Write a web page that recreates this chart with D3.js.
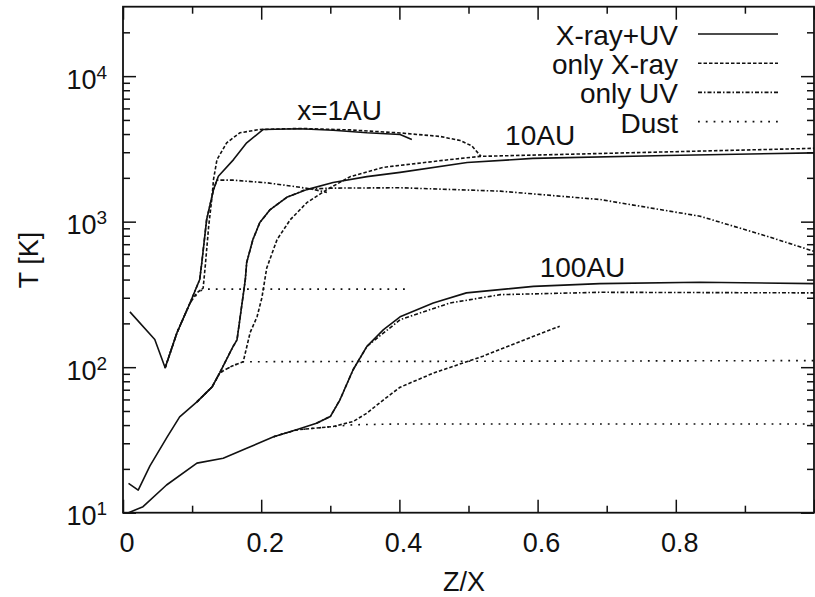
<!DOCTYPE html>
<html>
<head>
<meta charset="utf-8">
<script src="https://cdn.jsdelivr.net/npm/d3@7"></script>
<style>
  body { margin: 0; background: #fff; }
  text { font-family: "Liberation Sans", Arial, Helvetica, sans-serif; fill: #111; }
</style>
</head>
<body>
<div id="chart"></div>
<script>
// ticks
const xTicks = [0, 0.2, 0.4, 0.6, 0.8, 1];
const xMinor = [0.1, 0.3, 0.5, 0.7, 0.9];
// the label at 1 falls off the scanned page, so only these are printed
const xLabels = [0, 0.2, 0.4, 0.6, 0.8];
const yTicks = [10, 100, 1000, 10000];
const yMinor = [20, 30, 40, 50, 60, 70, 80, 90, 200, 300, 400, 500, 600, 700, 800, 900,
                2000, 3000, 4000, 5000, 6000, 7000, 8000, 9000, 20000];

const legendLabels = ["X-ray+UV", "only X-ray", "only UV", "Dust"];
const radiusLabels = ["x=1AU", "10AU", "100AU"];
// where the radius labels sit, in data units (Z/X, T)
const radiusLabelZ = [0.252, 0.553, 0.603];
const radiusLabelT = [5000, 3370, 417];

// x = 1AU
const z1_both = [0.010, 0.046, 0.061, 0.078, 0.097, 0.111, 0.114, 0.121, 0.131, 0.138, 0.160, 0.179, 0.203, 0.256, 0.304, 0.353, 0.401, 0.418];
const t1_both = [240, 155, 99, 172, 276, 400, 520, 1030, 1660, 2050, 2670, 3480, 4300, 4350, 4250, 4080, 3970, 3670];
const z1_xray = [0.061, 0.078, 0.097, 0.107, 0.116, 0.119, 0.124, 0.129, 0.131, 0.136, 0.150, 0.169, 0.198, 0.256, 0.329, 0.401, 0.459, 0.488, 0.505, 0.518];
const t1_xray = [99, 172, 276, 324, 350, 493, 930, 1500, 1950, 2670, 3480, 4080, 4300, 4370, 4270, 4070, 3850, 3610, 3310, 2810];
const z1_uv = [0.061, 0.078, 0.097, 0.111, 0.114, 0.121, 0.131, 0.136, 0.159, 0.208, 0.246, 0.271, 0.295];
const t1_uv = [99, 172, 276, 400, 520, 1030, 1660, 1930, 1930, 1850, 1750, 1680, 1590];
const z1_dust = [0.061, 0.078, 0.097, 0.111, 0.121, 0.411];
const t1_dust = [99, 172, 276, 335, 344, 344];

// x = 10AU
const z10_both = [0.008, 0.022, 0.039, 0.064, 0.082, 0.107, 0.129, 0.140, 0.159, 0.165, 0.171, 0.177, 0.179, 0.188, 0.198, 0.213, 0.237, 0.266, 0.304, 0.353, 0.401, 0.498, 0.593, 0.787, 1.0];
const t10_both = [15.9, 14.3, 21, 33.2, 45.6, 57.8, 73.3, 91.5, 138, 154, 248, 400, 524, 754, 986, 1210, 1470, 1660, 1860, 2040, 2180, 2550, 2720, 2850, 2970];
const z10_xray = [0.107, 0.129, 0.140, 0.158, 0.174, 0.184, 0.194, 0.201, 0.208, 0.223, 0.242, 0.266, 0.295, 0.329, 0.376, 0.473, 0.517, 0.690, 1.0];
const t10_xray = [57.8, 73.3, 91.5, 102, 109, 173, 222, 300, 480, 754, 1030, 1350, 1660, 2040, 2360, 2670, 2810, 2940, 3190];
const z10_uv = [0.107, 0.129, 0.140, 0.159, 0.165, 0.171, 0.177, 0.179, 0.188, 0.198, 0.213, 0.237, 0.266, 0.304, 0.401, 0.546, 0.690, 0.835, 0.932, 1.0];
const t10_uv = [57.8, 73.3, 91.5, 138, 154, 248, 400, 524, 754, 986, 1210, 1470, 1675, 1700, 1710, 1620, 1420, 1090, 794, 625];
const z10_dust = [0.107, 0.129, 0.140, 0.158, 0.174, 1.0];
const t10_dust = [57.8, 73.3, 91.5, 102, 109, 111];

// x = 100AU
const z100_both = [0.008, 0.029, 0.063, 0.107, 0.145, 0.179, 0.218, 0.251, 0.280, 0.300, 0.314, 0.333, 0.353, 0.377, 0.401, 0.449, 0.497, 0.594, 0.690, 0.835, 1.0];
const t100_both = [10, 11, 15.5, 21.9, 23.7, 27.7, 33.3, 37.1, 41.2, 45.8, 59.7, 96, 139, 181, 222, 276, 324, 359, 375, 383, 375];
const z100_xray = [0.218, 0.251, 0.304, 0.333, 0.353, 0.377, 0.401, 0.449, 0.521, 0.594, 0.632];
const t100_xray = [33.3, 37.1, 39.1, 42.3, 48.3, 59.7, 72.8, 91, 119, 163, 191];
const z100_uv = [0.280, 0.300, 0.314, 0.333, 0.353, 0.401, 0.473, 0.546, 0.690, 1.0];
const t100_uv = [41.2, 45.8, 59.7, 96, 139, 212, 276, 315, 327, 324];
const z100_dust = [0.218, 0.251, 0.304, 0.333, 0.401, 1.0];
const t100_dust = [33.3, 37.1, 39.1, 40.2, 40.7, 40.7];

// line styles, same order as legendLabels
const dashes = [null, "3.5,2", "4,2,1.5,2", "1.8,6"];

const series = [
  [z1_both, t1_both, 0], [z1_xray, t1_xray, 1], [z1_uv, t1_uv, 2], [z1_dust, t1_dust, 3],
  [z10_both, t10_both, 0], [z10_xray, t10_xray, 1], [z10_uv, t10_uv, 2], [z10_dust, t10_dust, 3],
  [z100_both, t100_both, 0], [z100_xray, t100_xray, 1], [z100_uv, t100_uv, 2], [z100_dust, t100_dust, 3]
];

const width = 815, height = 597;
const mLeft = 123, mRight = 814, mTop = 6.7, mBottom = 512.7;
const ink = "#111";

const svg = d3.select("#chart").append("svg")
    .attr("width", width)
    .attr("height", height);

const x = d3.scaleLinear().domain([0, 1]).range([mLeft, mRight]);
const y = d3.scaleLog().domain([10, 30000]).range([mBottom, mTop]);

// inward ticks on all four sides
function tickGroup(axis, vals, size, tr) {
  svg.append("g")
      .attr("transform", tr)
      .call(axis.tickValues(vals).tickSize(size).tickFormat(""))
      .call(g => g.select(".domain").remove())
      .call(g => g.selectAll("line").attr("stroke", ink).attr("stroke-width", 1.5));
}
tickGroup(d3.axisBottom(x), xTicks, -13, `translate(0,${mBottom})`);
tickGroup(d3.axisBottom(x), xMinor, -7, `translate(0,${mBottom})`);
tickGroup(d3.axisTop(x), xTicks, -13, `translate(0,${mTop})`);
tickGroup(d3.axisTop(x), xMinor, -7, `translate(0,${mTop})`);
tickGroup(d3.axisLeft(y), yTicks, -13, `translate(${mLeft},0)`);
tickGroup(d3.axisLeft(y), yMinor, -7, `translate(${mLeft},0)`);
tickGroup(d3.axisRight(y), yTicks, -13, `translate(${mRight},0)`);
tickGroup(d3.axisRight(y), yMinor, -7, `translate(${mRight},0)`);

// frame
svg.append("rect")
    .attr("x", mLeft).attr("y", mTop)
    .attr("width", mRight - mLeft).attr("height", mBottom - mTop)
    .attr("fill", "none")
    .attr("stroke", ink)
    .attr("stroke-width", 1.8);

// x tick labels
svg.selectAll(".xlab")
  .data(xLabels)
  .join("text")
    .attr("class", "xlab")
    .attr("x", d => x(d) + 4)
    .attr("y", 552)
    .attr("text-anchor", "middle")
    .style("font-size", "27px")
    .text(d3.format("~g"));

// y tick labels as 10^n
const ylab = svg.selectAll(".ylab")
  .data(yTicks)
  .join("text")
    .attr("class", "ylab")
    .attr("x", 107)
    .attr("y", d => y(d) + 12.5)
    .attr("text-anchor", "end")
    .style("font-size", "27px");
ylab.append("tspan").text("10");
ylab.append("tspan")
    .attr("dy", -10)
    .style("font-size", "19px")
    .text(d => Math.round(Math.log10(d)));

// axis titles
svg.append("text")
    .attr("transform", "translate(38,260) rotate(-90)")
    .attr("text-anchor", "middle")
    .style("font-size", "27px")
    .text("T [K]");
svg.append("text")
    .attr("x", 464)
    .attr("y", 591)
    .attr("text-anchor", "middle")
    .style("font-size", "27px")
    .text("Z/X");

// curves
const line = d3.line()
    .x(d => x(d[0]))
    .y(d => y(d[1]));

svg.append("g")
  .selectAll("path")
  .data(series)
  .join("path")
    .attr("d", s => line(d3.zip(s[0], s[1])))
    .attr("fill", "none")
    .attr("stroke", ink)
    .attr("stroke-width", 1.6)
    .attr("stroke-linejoin", "round")
    .attr("stroke-dasharray", s => dashes[s[2]]);

// radius labels
svg.selectAll(".rlab")
  .data(radiusLabels)
  .join("text")
    .attr("class", "rlab")
    .attr("x", (d, i) => x(radiusLabelZ[i]))
    .attr("y", (d, i) => y(radiusLabelT[i]))
    .style("font-size", "28px")
    .text(d => d);

// legend
const leg = svg.append("g")
  .selectAll("g")
  .data(legendLabels)
  .join("g")
    .attr("transform", (d, i) => `translate(0,${34 + i * 29.2})`);
leg.append("text")
    .attr("x", 678)
    .attr("y", 11)
    .attr("text-anchor", "end")
    .style("font-size", "28px")
    .text(d => d);
leg.append("line")
    .attr("x1", 698).attr("x2", 778)
    .attr("stroke", ink)
    .attr("stroke-width", 1.6)
    .attr("stroke-dasharray", (d, i) => dashes[i]);
</script>
</body>
</html>
